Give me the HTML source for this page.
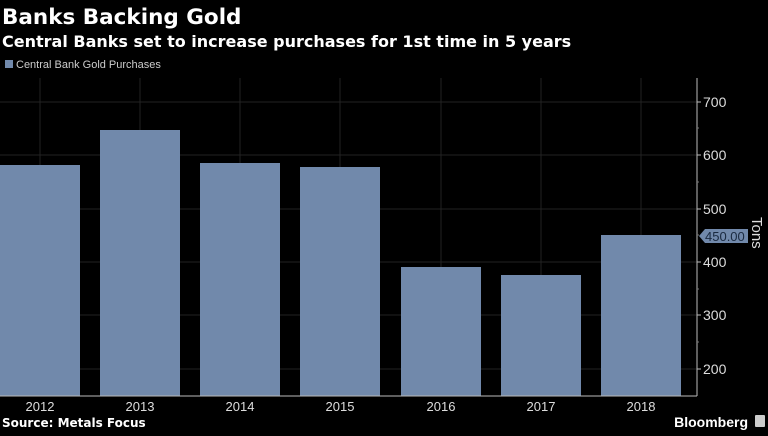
<!DOCTYPE html>
<html><head><style>
body{margin:0;background:#000;width:768px;height:431px;overflow:hidden;font-family:"Liberation Sans","DejaVu Sans",sans-serif;}
</style></head><body>
<svg width="768" height="431" xmlns="http://www.w3.org/2000/svg">
<rect width="768" height="431" fill="#000"/>
<text x="2" y="24" fill="#fff" font-size="21.5" font-weight="bold" font-family="DejaVu Sans, sans-serif">Banks Backing Gold</text>
<text x="2" y="47" fill="#fff" font-size="16" font-weight="bold" font-family="DejaVu Sans, sans-serif">Central Banks set to increase purchases for 1st time in 5 years</text>
<rect x="5" y="60" width="8" height="8" fill="#7189ab"/>
<text x="16" y="68" fill="#ccc" font-size="11">Central Bank Gold Purchases</text>
<g stroke="#222" stroke-width="1">
<line x1="0" y1="102" x2="697" y2="102"/><line x1="0" y1="155" x2="697" y2="155"/><line x1="0" y1="209" x2="697" y2="209"/><line x1="0" y1="262" x2="697" y2="262"/><line x1="0" y1="315" x2="697" y2="315"/><line x1="0" y1="369" x2="697" y2="369"/>
<line x1="40" y1="78" x2="40" y2="396"/><line x1="140" y1="78" x2="140" y2="396"/><line x1="240" y1="78" x2="240" y2="396"/><line x1="340" y1="78" x2="340" y2="396"/><line x1="441" y1="78" x2="441" y2="396"/><line x1="541" y1="78" x2="541" y2="396"/><line x1="641" y1="78" x2="641" y2="396"/>
</g>
<g fill="#7189ab">
<rect x="0" y="165" width="80" height="231"/>
<rect x="100" y="130" width="80" height="266"/>
<rect x="200" y="163" width="80" height="233"/>
<rect x="300" y="167" width="80" height="229"/>
<rect x="401" y="267" width="80" height="129"/>
<rect x="501" y="275" width="80" height="121"/>
<rect x="601" y="235" width="80" height="161"/>
</g>
<line x1="697" y1="78" x2="697" y2="396" stroke="#bbb"/>
<line x1="0" y1="396" x2="697" y2="396" stroke="#bbb"/>
<g stroke="#bbb"><line x1="697" y1="102" x2="701" y2="102"/><line x1="697" y1="155" x2="701" y2="155"/><line x1="697" y1="209" x2="701" y2="209"/><line x1="697" y1="262" x2="701" y2="262"/><line x1="697" y1="315" x2="701" y2="315"/><line x1="697" y1="369" x2="701" y2="369"/></g>
<g stroke="#777"><line x1="697" y1="128" x2="699" y2="128"/><line x1="697" y1="182" x2="699" y2="182"/><line x1="697" y1="235" x2="699" y2="235"/><line x1="697" y1="289" x2="699" y2="289"/><line x1="697" y1="342" x2="699" y2="342"/></g>
<g fill="#ddd" font-size="14">
<text x="703" y="107">700</text><text x="703" y="160">600</text><text x="703" y="214">500</text><text x="703" y="267">400</text><text x="703" y="320">300</text><text x="703" y="374">200</text>
</g>
<polygon points="699,236 705,229 748,229 748,243 705,243" fill="#7189ab"/>
<text x="705" y="241" fill="#1a2a40" font-size="13">450.00</text>
<text transform="translate(752,217) rotate(90)" fill="#ddd" font-size="15">Tons</text>
<g fill="#ddd" font-size="13" text-anchor="middle">
<text x="40" y="411">2012</text><text x="140" y="411">2013</text><text x="240" y="411">2014</text><text x="340" y="411">2015</text><text x="441" y="411">2016</text><text x="541" y="411">2017</text><text x="641" y="411">2018</text>
</g>
<text x="2" y="427" fill="#fff" font-size="12" font-weight="bold" font-family="DejaVu Sans, sans-serif">Source: Metals Focus</text>
<text x="748" y="427" fill="#fff" font-size="14" font-weight="bold" text-anchor="end">Bloomberg</text>
<rect x="755" y="415" width="10" height="12" fill="#ccc" rx="1"/>
</svg>
</body></html>
